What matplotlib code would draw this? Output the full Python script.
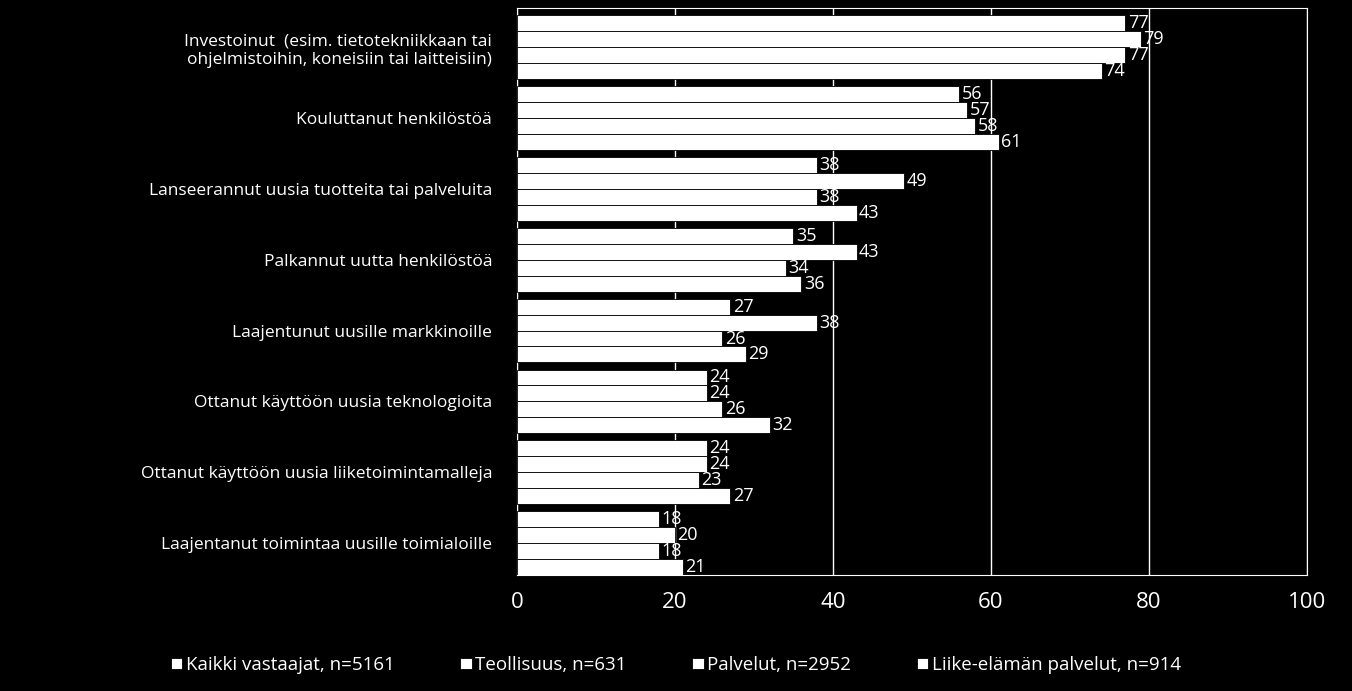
import matplotlib
matplotlib.use("Agg")
import matplotlib.pyplot as plt
import numpy as np

categories = ["Investoinut  (esim. tietotekniikkaan tai\nohjelmistoihin, koneisiin tai laitteisiin)",
              "Kouluttanut henkilöstöä",
              "Lanseerannut uusia tuotteita tai palveluita",
              "Palkannut uutta henkilöstöä",
              "Laajentunut uusille markkinoille",
              "Ottanut käyttöön uusia teknologioita",
              "Ottanut käyttöön uusia liiketoimintamalleja",
              "Laajentanut toimintaa uusille toimialoille"]
series_names = ["Kaikki vastaajat, n=5161", "Teollisuus, n=631", "Palvelut, n=2952",
                "Liike-elämän palvelut, n=914"]
kaikki = [77, 56, 38, 35, 27, 24, 24, 18]
teollisuus = [79, 57, 49, 43, 38, 24, 24, 20]
palvelut = [77, 58, 38, 34, 26, 26, 23, 18]
liike = [74, 61, 43, 36, 29, 32, 27, 21]
series = [kaikki, teollisuus, palvelut, liike]
xticks = [0, 20, 40, 60, 80, 100]

plt.rcParams["font.family"] = "Open Sans"
fig = plt.figure(figsize=(13.52, 6.91), dpi=100, facecolor="black")
ax = fig.add_axes([0.3824, 0.168, 0.5843, 0.820], facecolor="black")
h = 0.225
y = np.arange(len(categories))
for i, vals in enumerate(series):
    ys = y - 1.5 * h + i * h
    ax.barh(ys, vals, height=h, color="white", edgecolor="black", linewidth=0.6,
            label=series_names[i], zorder=3)
    for yy, v in zip(ys, vals):
        ax.text(v + 0.3, yy, str(v), color="white", va="center", ha="left", fontsize=13, zorder=4)
ax.set_ylim(len(categories) - 0.55, -0.55)
ax.set_xlim(0, 100)
ax.set_xticks(xticks)
ax.tick_params(axis="x", colors="white", labelsize=16, length=0, pad=12)
ax.set_yticks(y)
ax.set_yticklabels(categories, color="white", fontsize=12.5)
ax.tick_params(axis="y", length=0, pad=18)
ax.grid(axis="x", color="white", linewidth=1, zorder=0)
for s in ax.spines.values():
    s.set_color("white")
leg = fig.legend(*ax.get_legend_handles_labels(), loc="lower center", ncol=4,
                 bbox_to_anchor=(0.5, 0.0), frameon=False, fontsize=13.5,
                 handlelength=0.6, handleheight=0.6, handletextpad=0.2, columnspacing=3.5)
for t in leg.get_texts():
    t.set_color("white")
fig.savefig("out.png", facecolor="black")
